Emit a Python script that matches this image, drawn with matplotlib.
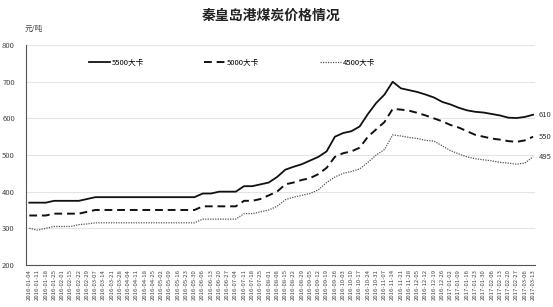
import numpy as np
import pandas as pd
from matplotlib import pyplot as plt

plt.rcParams['font.family'] = ['Noto Sans CJK SC', 'DejaVu Sans']

# weekly dates, spring festival week skipped
dates = pd.date_range('2016-01-04', '2017-03-13', freq='7D')
dates = dates[dates != pd.Timestamp('2016-02-08')]
date_labels = [d.strftime('%Y-%m-%d') for d in dates]

p5500 = [370, 370, 370, 375, 375, 375, 375, 380, 385, 385, 385, 385, 385, 385, 385, 385,
         385, 385, 385, 385, 385, 395, 395, 400, 400, 400, 415, 415, 420, 425, 440, 460,
         468, 475, 485, 495, 510, 550, 560, 565, 578, 612, 642, 665, 700, 682, 677, 672,
         665, 657, 645, 638, 629, 622, 618, 616, 612, 608, 602, 601, 604, 610]
p5000 = [335, 335, 335, 340, 340, 340, 340, 345, 350, 350, 350, 350, 350, 350, 350, 350,
         350, 350, 350, 350, 350, 360, 360, 360, 360, 360, 375, 375, 380, 390, 400, 420,
         425, 432, 437, 448, 465, 495, 505, 510, 520, 550, 570, 590, 626, 624, 621, 615,
         608, 600, 592, 582, 575, 565, 555, 550, 545, 542, 538, 536, 540, 550]
p4500 = [300, 295, 300, 305, 305, 305, 310, 312, 315, 315, 315, 315, 315, 315, 315, 315,
         315, 315, 315, 315, 315, 325, 325, 325, 325, 325, 340, 340, 345, 350, 360, 378,
         385, 390, 395, 405, 425, 440, 450, 455, 462, 480, 500, 515, 555, 552, 548, 545,
         540, 538, 525, 512, 503, 495, 490, 487, 484, 480, 478, 475, 478, 495]

x = np.arange(len(date_labels))

fig = plt.figure(figsize=(5.53, 3.07), dpi=100)
ax = fig.add_axes([0.047, 0.137, 0.92, 0.716])

ax.plot(x, p5500, color='#111111', lw=1.3, label='5500大卡')
ax.plot(x, p5000, color='#111111', lw=1.4, dashes=(4, 2.5), label='5000大卡')
ax.plot(x, p4500, color='#555555', lw=0.9, ls=(0, (1, 1)), label='4500大卡')

for vals in (p5500, p5000, p4500):
    ax.annotate(str(vals[-1]), (x[-1], vals[-1]), xytext=(4, 0), textcoords='offset points',
                fontsize=5.5, color='#333333', va='center')

ax.set_ylim(200, 800)
ax.set_yticks(range(200, 801, 100))
ax.set_xlim(-0.4, len(x) - 0.8)
ax.set_xticks(x)
ax.set_xticklabels(date_labels, rotation=90, fontsize=4.3, color='#444444')
ax.tick_params(axis='y', labelsize=5.5, colors='#444444', length=0, pad=8)
ax.tick_params(axis='x', length=0, pad=3)
ax.grid(axis='y', color='#e4e4e4', lw=0.8)
ax.set_axisbelow(True)
for s in ['top', 'right']:
    ax.spines[s].set_visible(False)
ax.spines['left'].set_color('#555555')
ax.spines['bottom'].set_color('#555555')

ax.legend(loc='upper left', bbox_to_anchor=(0.11, 0.97), ncol=3, frameon=False,
          fontsize=5.5, handlelength=2.8, columnspacing=7.9, handletextpad=0.2)

fig.text(0.49, 0.95, '秦皇岛港煤炭价格情况', ha='center', va='center', fontsize=10,
         fontweight='bold', color='#222222')
fig.text(0.045, 0.905, '元/吨', ha='left', va='center', fontsize=5.5, color='#444444')

fig.savefig('out.png', dpi=100)
